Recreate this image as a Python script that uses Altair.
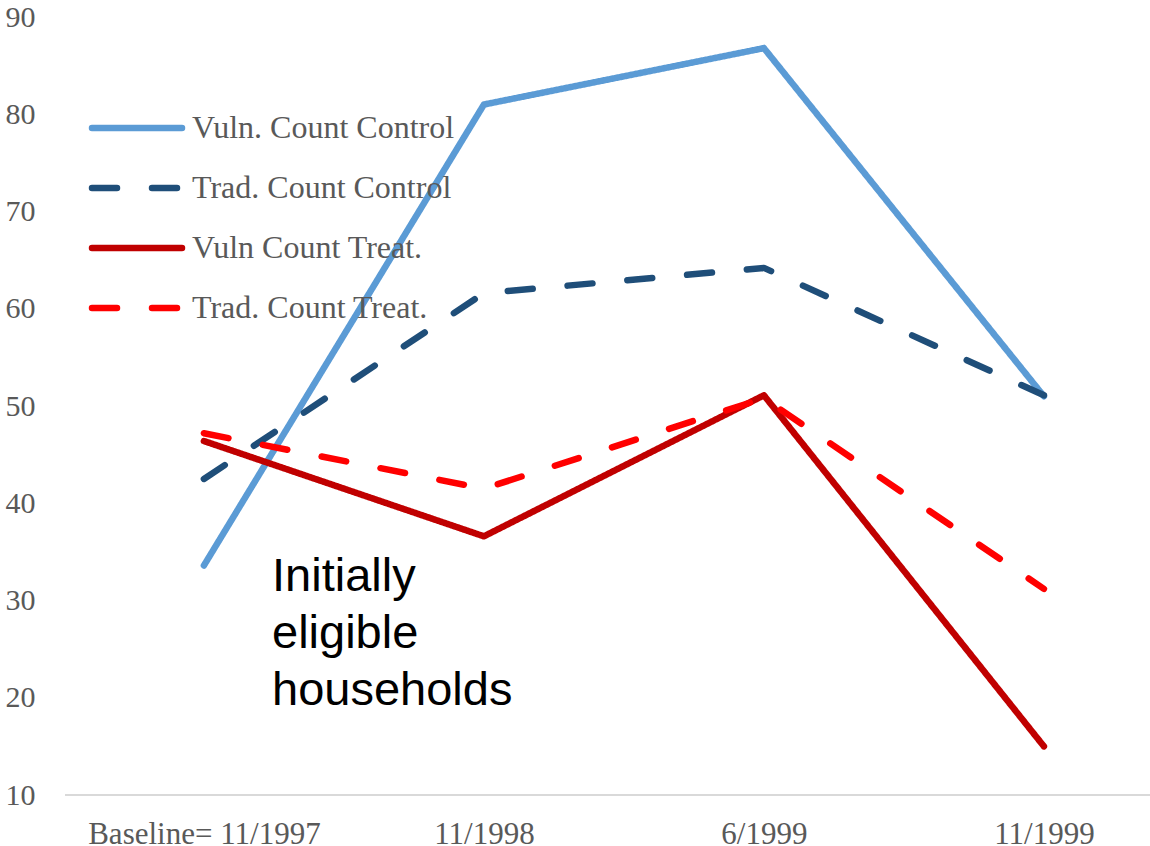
import altair as alt
import pandas as pd

# Survey rounds on the x axis
dates = ["Baseline= 11/1997", "11/1998", "6/1999", "11/1999"]

# Series names, in drawing order
series_names = [
    "Vuln. Count Control",
    "Trad. Count Control",
    "Vuln Count Treat.",
    "Trad. Count Treat.",
]

# Values per survey round
vuln_control = [33.6, 81.0, 86.8, 51.0]
trad_control = [42.5, 61.6, 64.2, 51.1]
vuln_treat = [46.4, 36.6, 51.1, 15.0]
trad_treat = [47.2, 41.5, 50.8, 31.2]

y_ticks = [10, 20, 30, 40, 50, 60, 70, 80, 90]

note_lines = ["Initially", "eligible", "households"]

series_colors = ["#5B9BD5", "#1F4E79", "#C00000", "#FF0000"]
series_dashes = [[1, 0], [25, 35], [1, 0], [25, 35]]

rows = []
for name, vals in zip(series_names, [vuln_control, trad_control, vuln_treat, trad_treat]):
    for i, (d, v) in enumerate(zip(dates, vals)):
        rows.append({"series": name, "date": d, "step": i, "value": v})
df = pd.DataFrame(rows)

legend_df = pd.DataFrame({"series": series_names, "row": list(range(len(series_names)))})
note_df = pd.DataFrame({"note": ["\n".join(note_lines)]})

SERIF = "Liberation Serif"
GREY = "#595959"
LW = 6.5
W, H = 1085, 778

color_scale = alt.Scale(domain=series_names, range=series_colors)
dash_scale = alt.Scale(domain=series_names, range=series_dashes)

x_enc = alt.X(
    "date:N",
    sort=dates,
    scale=alt.Scale(type="point", padding=0.4375, align=0.567),
    axis=alt.Axis(
        title=None,
        labelAngle=0,
        labelFont=SERIF,
        labelFontSize=31,
        labelColor=GREY,
        labelPadding=24,
        labelLimit=0,
        ticks=False,
        tickSize=0,
        grid=False,
        domain=False,
    ),
)
y_enc = alt.Y(
    "value:Q",
    scale=alt.Scale(domain=[10, 90], nice=False, zero=False),
    axis=alt.Axis(
        title=None,
        values=y_ticks,
        labelFont=SERIF,
        labelFontSize=30,
        labelColor=GREY,
        labelPadding=30,
        domain=False,
        ticks=False,
        tickSize=0,
        grid=False,
    ),
)

# Light grey baseline along the bottom of the plot
baseline = alt.Chart(legend_df.head(1)).mark_rule(color="#D9D9D9", strokeWidth=2).encode(
    x=alt.value(0), x2=alt.value(W), y=alt.value(H)
)

line_layers = []
for name in series_names:
    line_layers.append(
        alt.Chart(df)
        .transform_filter(alt.datum.series == name)
        .mark_line(strokeWidth=LW, strokeCap="round", strokeJoin="round")
        .encode(
            x=x_enc,
            y=y_enc,
            color=alt.Color("series:N", scale=color_scale, legend=None),
            strokeDash=alt.StrokeDash("series:N", scale=dash_scale, legend=None),
            order=alt.Order("step:Q"),
        )
    )
lines = alt.layer(*line_layers)

# Hand-built legend in the upper left of the plot
legend_y = alt.Y("row:Q", scale=alt.Scale(domain=[0, 3], range=[111, 291]), axis=None)
legend_rules = alt.Chart(legend_df).mark_rule(strokeWidth=LW, strokeCap="round").encode(
    x=alt.value(27),
    x2=alt.value(117),
    y=legend_y,
    color=alt.Color("series:N", scale=color_scale, legend=None),
    strokeDash=alt.StrokeDash("series:N", scale=dash_scale, legend=None),
)
legend_text = alt.Chart(legend_df).mark_text(
    align="left", baseline="middle", font=SERIF, fontSize=32, color=GREY
).encode(x=alt.value(127), y=legend_y, text="series:N")
legend = alt.layer(legend_rules, legend_text)

note = alt.Chart(note_df).mark_text(
    align="left",
    baseline="alphabetic",
    font="Liberation Sans",
    fontSize=47,
    lineHeight=57,
    lineBreak="\n",
    color="#000000",
).encode(x=alt.value(207), y=alt.value(574), text="note:N")

chart = (
    alt.layer(baseline, lines, legend, note)
    .resolve_scale(y="independent")
    .properties(
        width=W,
        height=H,
        autosize=alt.AutoSizeParams(type="none"),
        padding={"left": 65, "top": 17, "right": 0, "bottom": 51},
        background="white",
    )
    .configure_view(stroke=None)
)

chart.save("out.html", embed_options={"renderer": "svg", "actions": False})
